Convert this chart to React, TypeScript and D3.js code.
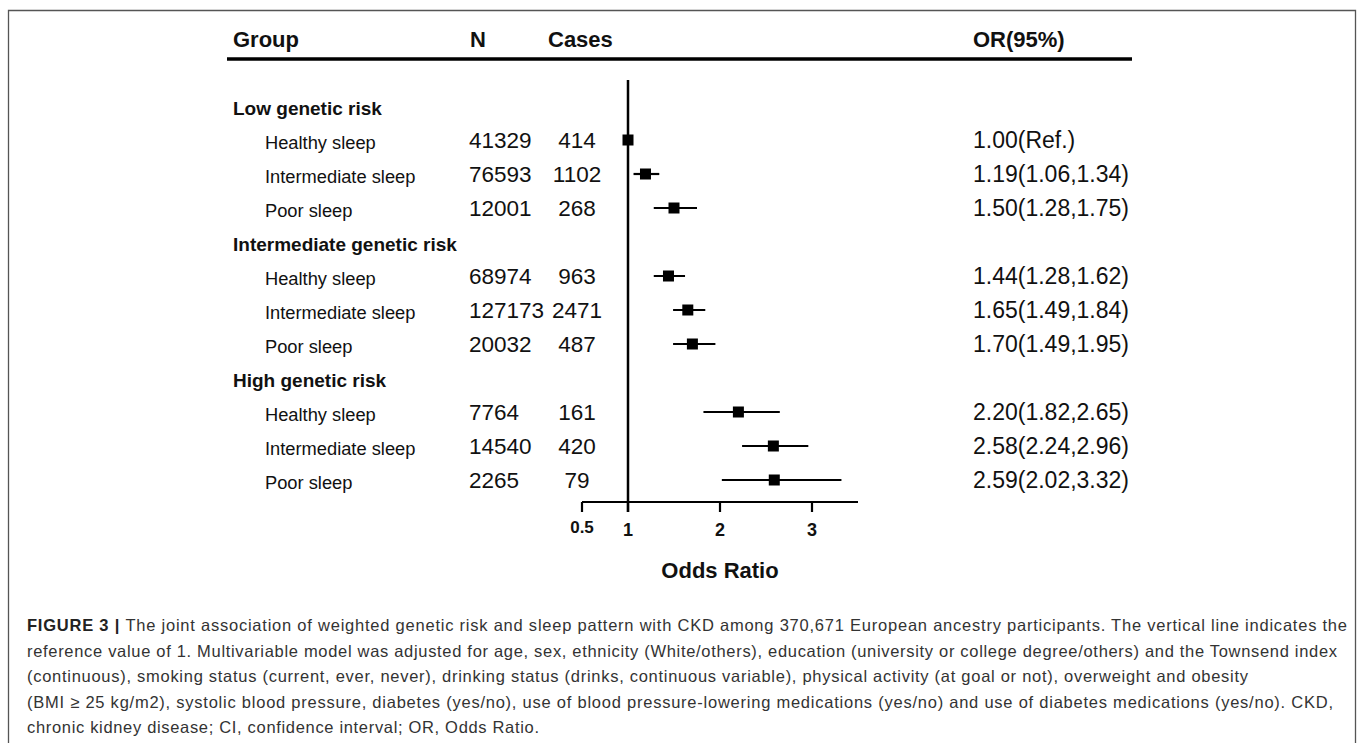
import React from 'react';
import * as d3 from 'd3';

const groups = ['Low genetic risk', 'Intermediate genetic risk', 'High genetic risk'];
const sleepLabels = ['Healthy sleep', 'Intermediate sleep', 'Poor sleep'];
const nValues = [41329, 76593, 12001, 68974, 127173, 20032, 7764, 14540, 2265];
const caseValues = [414, 1102, 268, 963, 2471, 487, 161, 420, 79];
const orValues = [1.0, 1.19, 1.5, 1.44, 1.65, 1.7, 2.2, 2.58, 2.59];
const lowerCI = [null, 1.06, 1.28, 1.28, 1.49, 1.49, 1.82, 2.24, 2.02];
const upperCI = [null, 1.34, 1.75, 1.62, 1.84, 1.95, 2.65, 2.96, 3.32];
const xTicks = [0.5, 1, 2, 3];
const xDomain = [0.5, 3.5];

const captionLines = [
  'The joint association of weighted genetic risk and sleep pattern with CKD among 370,671 European ancestry participants. The vertical line indicates the',
  'reference value of 1. Multivariable model was adjusted for age, sex, ethnicity (White/others), education (university or college degree/others) and the Townsend index',
  '(continuous), smoking status (current, ever, never), drinking status (drinks, continuous variable), physical activity (at goal or not), overweight and obesity',
  '(BMI \u2265 25 kg/m2), systolic blood pressure, diabetes (yes/no), use of blood pressure-lowering medications (yes/no) and use of diabetes medications (yes/no). CKD,',
  'chronic kidney disease; CI, confidence interval; OR, Odds Ratio.',
];
const captionWidths = [1320, 1310, 1221, 1306, 512];

const FONT = "'Liberation Sans', Arial, Helvetica, sans-serif";

type Row =
  | { kind: 'group'; label: string }
  | { kind: 'item'; label: string; idx: number };

export default function App() {
  const width = 1357;
  const height = 743;

  // rows: group header followed by its three sleep categories
  const rows: Row[] = [];
  groups.forEach((g, gi) => {
    rows.push({ kind: 'group', label: g });
    sleepLabels.forEach((s, si) => rows.push({ kind: 'item', label: s, idx: gi * 3 + si }));
  });

  const y = d3.scalePoint<number>().domain(d3.range(rows.length)).range([106, 480]);
  const x = d3.scaleLinear().domain(xDomain).range([582, 858]);

  const axisY = 502;
  const colGroup = 233;
  const colItem = 265;
  const colN = 469;
  const colCases = 577;
  const colOR = 973;

  const orLabel = (i: number) =>
    lowerCI[i] == null
      ? `${orValues[i].toFixed(2)}(Ref.)`
      : `${orValues[i].toFixed(2)}(${(lowerCI[i] as number).toFixed(2)},${(upperCI[i] as number).toFixed(2)})`;

  return (
    <svg
      width={width}
      height={height}
      style={{ position: 'absolute', left: 0, top: 0, background: '#fff' }}
      fontFamily={FONT}
    >
      {/* frame */}
      <path d="M8.5,800 L8.5,10.5 L1355.5,10.5 L1355.5,800" fill="none" stroke="#555" strokeWidth={1.3} />

      {/* header */}
      <g fontSize={22} fontWeight="bold" fill="#111">
        <text x={colGroup} y={47}>Group</text>
        <text x={colN + 1} y={47}>N</text>
        <text x={548} y={47}>Cases</text>
        <text x={colOR} y={47}>OR(95%)</text>
      </g>
      <line x1={227} x2={1132} y1={59} y2={59} stroke="#000" strokeWidth={3.5} />

      {/* rows */}
      {rows.map((r, k) => {
        const yy = y(k) as number;
        if (r.kind === 'group') {
          return (
            <text key={k} x={colGroup} y={yy + 9} fontSize={19} fontWeight="bold" fill="#111">
              {r.label}
            </text>
          );
        }
        const i = r.idx;
        return (
          <g key={k} fill="#111">
            <text x={colItem} y={yy + 9} fontSize={18.3}>{r.label}</text>
            <text x={colN} y={yy + 8} fontSize={22.5}>{nValues[i]}</text>
            <text x={colCases} y={yy + 8} fontSize={22.5} textAnchor="middle">{caseValues[i]}</text>
            <text x={colOR} y={yy + 8} fontSize={23}>{orLabel(i)}</text>
          </g>
        );
      })}

      {/* reference line */}
      <line x1={x(1)} x2={x(1)} y1={80} y2={axisY + 10} stroke="#000" strokeWidth={2.5} />

      {/* CIs and points */}
      {rows.map((r, k) => {
        if (r.kind !== 'item') return null;
        const i = r.idx;
        const yy = y(k) as number;
        const s = 11;
        return (
          <g key={'p' + k}>
            {lowerCI[i] != null && (
              <line
                x1={x(lowerCI[i] as number)}
                x2={x(upperCI[i] as number)}
                y1={yy}
                y2={yy}
                stroke="#000"
                strokeWidth={2.2}
              />
            )}
            <rect x={x(orValues[i]) - s / 2} y={yy - s / 2} width={s} height={s} fill="#000" />
          </g>
        );
      })}

      {/* x axis */}
      <line x1={x(xDomain[0])} x2={x(xDomain[1])} y1={axisY} y2={axisY} stroke="#000" strokeWidth={2.2} />
      {xTicks.map((t) => (
        <g key={t}>
          <line x1={x(t)} x2={x(t)} y1={axisY} y2={axisY + 10} stroke="#000" strokeWidth={2.2} />
          <text
            x={x(t)}
            y={t < 1 ? 533 : 536}
            fontSize={t < 1 ? 17 : 18}
            fontWeight="bold"
            textAnchor="middle"
            fill="#111"
          >
            {d3.format('~g')(t)}
          </text>
        </g>
      ))}
      <text x={(x(xDomain[0]) + x(xDomain[1])) / 2} y={578} fontSize={22} fontWeight="bold" textAnchor="middle" fill="#111">
        Odds Ratio
      </text>

      {/* caption */}
      <g fontSize={16.5} fill="#333">
        {captionLines.map((line, li) => (
          <text
            key={li}
            x={27}
            y={631 + li * 25.5}
            textLength={captionWidths[li]}
            lengthAdjust="spacing"
          >
            {li === 0 && (
              <tspan fontWeight="bold" fill="#222">FIGURE 3 | </tspan>
            )}
            {line}
          </text>
        ))}
      </g>
    </svg>
  );
}
